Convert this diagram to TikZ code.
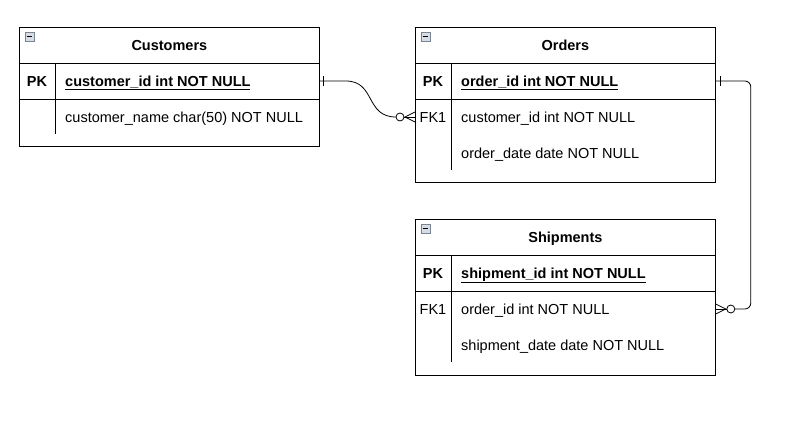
\documentclass[tikz,border=0pt]{standalone}
\usepackage{fontspec}
\setmainfont{Liberation Sans}
\usetikzlibrary{positioning, calc}
\definecolor{iconfill}{HTML}{D8DCE4}
\definecolor{iconedge}{HTML}{7A8596}

\begin{document}
\begin{tikzpicture}[
    x=1pt, y=-1pt,
    table/.style   = {draw, line width=0.8pt, minimum width=300pt, anchor=north west,
                      inner sep=0pt},
    title/.style   = {font=\fontsize{14.5}{17}\selectfont\bfseries, anchor=base},
    keylbl/.style  = {font=\fontsize{14.5}{17}\selectfont, anchor=base, inner sep=0pt},
    field/.style   = {font=\fontsize{14.5}{17}\selectfont, anchor=base west, inner sep=0pt},
    rule/.style    = {line width=0.8pt},
    relation/.style = {line width=0.8pt},
    icon/.style    = {draw=iconedge, fill=iconfill, line width=0.6pt,
                      minimum size=9pt, inner sep=0pt},
]

% fixed canvas, same size as the reference
\useasboundingbox (0,0) rectangle (801,434);

% --- Customers ---------------------------------------------------------
\node[table, minimum height=119pt] (customers) at (19,27) {};
\node[icon] (cicon) at (29.5,36.5) {};
\draw[line width=0.8pt] (cicon.west) ++(2,0) -- ($(cicon.east)+(-2,0)$);
\node[title] (ctitle) at ($(customers.north)+(0,23)$) {Customers};
\draw[rule] ($(customers.north west)+(0,36)$) -- ++(300,0);
\draw[rule] ($(customers.north west)+(0,72)$) -- ++(300,0);
\draw[rule] ($(customers.north west)+(36,36)$) -- ++(0,71);
\node[keylbl, font=\fontsize{14.5}{17}\selectfont\bfseries] (cpk) at (37,86) {PK};
\node[field, font=\fontsize{14.5}{17}\selectfont\bfseries] (cid) at (65,86)
      {\underline{customer\_id int NOT NULL}};
\node[field] (cname) at (65,122) {customer\_name char(50) NOT NULL};

% --- Orders ------------------------------------------------------------
\node[table, minimum height=155pt] (orders) at (415,27) {};
\node[icon] (oicon) at (425.5,36.5) {};
\draw[line width=0.8pt] (oicon.west) ++(2,0) -- ($(oicon.east)+(-2,0)$);
\node[title] (otitle) at ($(orders.north)+(0,23)$) {Orders};
\draw[rule] ($(orders.north west)+(0,36)$) -- ++(300,0);
\draw[rule] ($(orders.north west)+(0,72)$) -- ++(300,0);
\draw[rule] ($(orders.north west)+(36,36)$) -- ++(0,107);
\node[keylbl, font=\fontsize{14.5}{17}\selectfont\bfseries] (opk) at (433,86) {PK};
\node[keylbl] (ofk) at (433,122) {FK1};
\node[field, font=\fontsize{14.5}{17}\selectfont\bfseries] (oid) at (461,86)
      {\underline{order\_id int NOT NULL}};
\node[field] (ocust) at (461,122) {customer\_id int NOT NULL};
\node[field] (odate) at (461,158) {order\_date date NOT NULL};

% --- Shipments ---------------------------------------------------------
\node[table, minimum height=156pt] (shipments) at (415,219) {};
\node[icon] (sicon) at (425.5,228.5) {};
\draw[line width=0.8pt] (sicon.west) ++(2,0) -- ($(sicon.east)+(-2,0)$);
\node[title] (stitle) at ($(shipments.north)+(0,23)$) {Shipments};
\draw[rule] ($(shipments.north west)+(0,36)$) -- ++(300,0);
\draw[rule] ($(shipments.north west)+(0,72)$) -- ++(300,0);
\draw[rule] ($(shipments.north west)+(36,36)$) -- ++(0,107);
\node[keylbl, font=\fontsize{14.5}{17}\selectfont\bfseries] (spk) at (433,278) {PK};
\node[keylbl] (sfk) at (433,314) {FK1};
\node[field, font=\fontsize{14.5}{17}\selectfont\bfseries] (sid) at (461,278)
      {\underline{shipment\_id int NOT NULL}};
\node[field] (sorder) at (461,314) {order\_id int NOT NULL};
\node[field] (sdate) at (461,350) {shipment\_date date NOT NULL};

% --- relation: Customers 1 -- 0..n Orders ------------------------------
\coordinate (cone)  at ($(customers.north east)+(0,54)$);
\coordinate (omany) at ($(orders.north west)+(0,90)$);
\draw[relation] (cone) -- ++(26,0) .. controls ++(30,0) and ($(omany)+(-50,0)$)
      .. ($(omany)+(-19,0)$);
\draw[relation] ($(cone)+(4,-5)$) -- ++(0,10);
\draw[relation] ($(omany)+(-15,0)$) circle (4);
\draw[relation] ($(omany)+(-11,0)$) -- (omany);
\draw[relation] ($(omany)+(-10,0)$) -- ++(10,-5);
\draw[relation] ($(omany)+(-10,0)$) -- ++(10,5);

% --- relation: Orders 1 -- 0..n Shipments ------------------------------
\coordinate (oone)  at ($(orders.north east)+(0,54)$);
\coordinate (smany) at ($(shipments.north east)+(0,90)$);
\draw[relation, rounded corners=6pt] (oone) -- ++(35,0) |- ($(smany)+(19,0)$);
\draw[relation] ($(oone)+(5,-5)$) -- ++(0,10);
\draw[relation] ($(smany)+(15,0)$) circle (4);
\draw[relation] ($(smany)+(11,0)$) -- (smany);
\draw[relation] ($(smany)+(10,0)$) -- ++(-10,-5);
\draw[relation] ($(smany)+(10,0)$) -- ++(-10,5);

\end{tikzpicture}
\end{document}
